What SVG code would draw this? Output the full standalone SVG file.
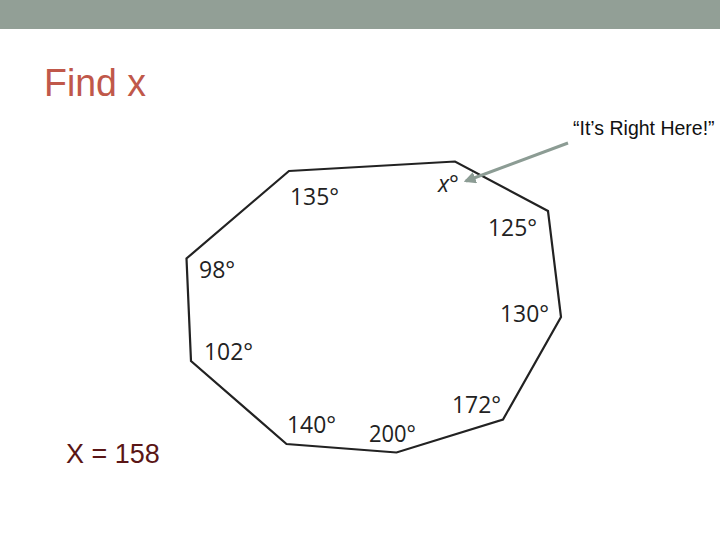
<svg xmlns="http://www.w3.org/2000/svg" width="720" height="540" viewBox="0 0 720 540">
<style>
.lbl{font-family:"Open Sans","Noto Sans","DejaVu Sans",sans-serif;font-size:23px;fill:#222}
.txt{font-family:"Liberation Sans",Arial,sans-serif}
</style>
<defs>
<marker id="ah" viewBox="0 0 10 10" refX="8" refY="5" markerWidth="4" markerHeight="4" orient="auto" markerUnits="strokeWidth">
<path d="M0,0 L10,5 L0,10 z" fill="#8c9c94"/>
</marker>
</defs>
<rect x="0" y="0" width="720" height="540" fill="#ffffff"/>
<rect x="0" y="0" width="720" height="29" fill="#929f96"/>
<text class="txt" x="44" y="96" font-size="38" fill="#c0584a" textLength="102" lengthAdjust="spacingAndGlyphs">Find x</text>
<g id="polygon">
<polygon points="289,171 455,161.5 548,211 561,317 503,419.5 396.5,452.5 286.5,444 191,361 186.5,258.5" fill="none" stroke="#222" stroke-width="2.2" stroke-linejoin="miter"/>
<text class="lbl" x="290" y="205" textLength="49" lengthAdjust="spacingAndGlyphs">135°</text>
<text class="lbl" x="438" y="192" font-style="italic">x°</text>
<text class="lbl" x="488" y="236" textLength="49" lengthAdjust="spacingAndGlyphs">125°</text>
<text class="lbl" x="199" y="278">98°</text>
<text class="lbl" x="500" y="322" textLength="49" lengthAdjust="spacingAndGlyphs">130°</text>
<text class="lbl" x="204" y="360" textLength="49" lengthAdjust="spacingAndGlyphs">102°</text>
<text class="lbl" x="452" y="413" textLength="49" lengthAdjust="spacingAndGlyphs">172°</text>
<text class="lbl" x="287" y="433" textLength="49" lengthAdjust="spacingAndGlyphs">140°</text>
<text class="lbl" x="369" y="442" textLength="47" lengthAdjust="spacingAndGlyphs">200°</text>
</g>
<g id="callout">
<text class="txt" x="573" y="135" font-size="19.5" fill="#111">“It’s Right Here!”</text>
</g>
<g id="connectors">
<line x1="568" y1="143" x2="466" y2="181" stroke="#8c9c94" stroke-width="3" marker-end="url(#ah)"/>
</g>
<g id="answer">
<text class="txt" x="66" y="463" font-size="27" fill="#5a1616">X = 158</text>
</g>
</svg>
